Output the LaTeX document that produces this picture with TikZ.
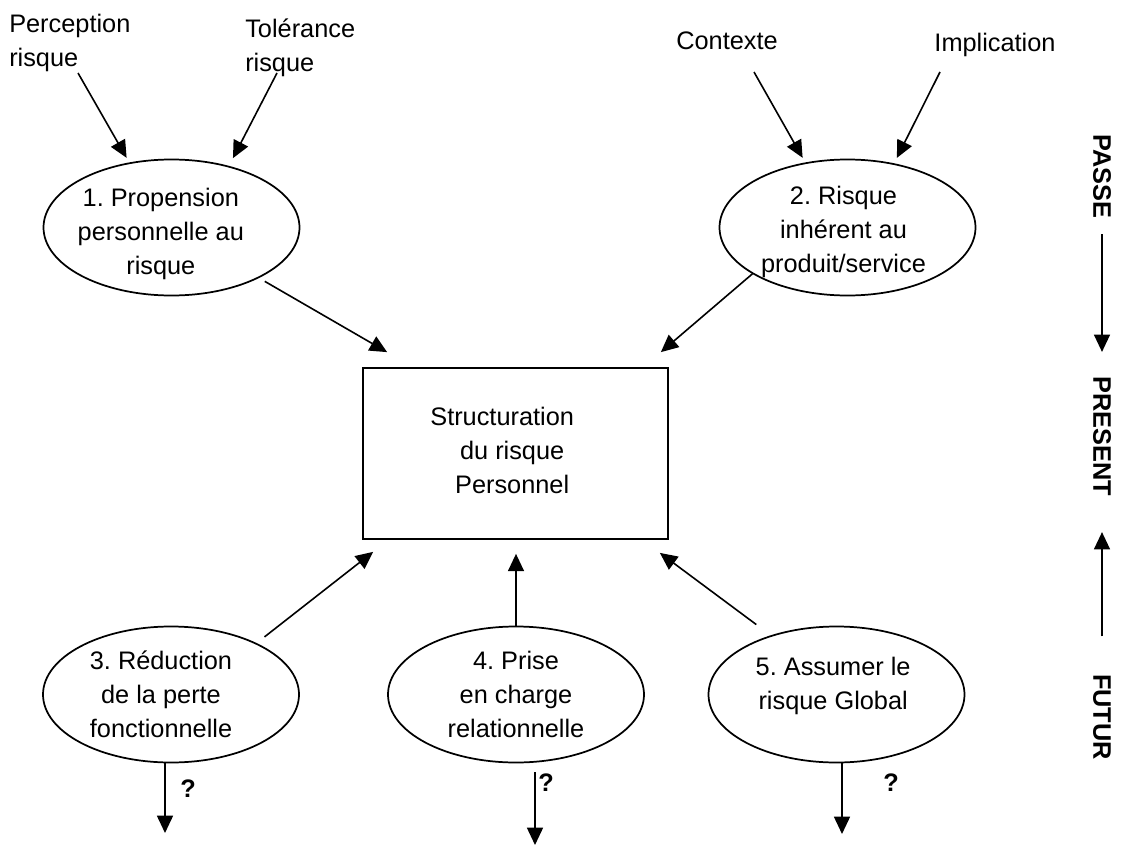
\documentclass[tikz,border=0pt]{standalone}
\usepackage{fontspec}
\setmainfont{Liberation Sans}
\frenchspacing
\usetikzlibrary{calc,shapes.geometric,arrows.meta}

\begin{document}
\begin{tikzpicture}[x=0.75pt,y=-0.75pt,>={Triangle[length=13pt,width=12pt]},
  every node/.style={font=\fontsize{19}{25.5}\selectfont, inner sep=0pt},
  every label/.style={align=center},
  link/.style={->, line width=1.2pt},
  bubble/.style={ellipse, draw, line width=1.3pt, minimum width=192pt, minimum height=102pt},
  side/.style={rotate=-90, font=\fontsize{19}{25.5}\selectfont\bfseries}]

\useasboundingbox (0,0) rectangle (1125,846);

% Draw inputs
\node[anchor=north west, align=left] (perc) at (9,14) {Perception\\risque};
\node[anchor=north west, align=left] (tol) at (245,19) {Tolérance\\risque};
\node[anchor=north] (ctx) at (727,32) {Contexte};
\node[anchor=north] (impl) at (995,33) {Implication};

% Draw bubbles
\node[bubble, label={[xshift=-8pt, yshift=-4.5pt]center:1. Propension\\personnelle au\\risque}] (prop) at (171.5,227.5) {};
\node[bubble, label={[xshift=-3pt, yshift=-3pt]center:2. Risque\\inhérent au\\produit/service}] (inh) at (847.5,227.5) {};
\node[bubble, label={[xshift=-7.5pt]center:3. Réduction\\de la perte\\fonctionnelle}] (red) at (171,694.5) {};
\node[bubble, label={center:4. Prise\\en charge\\relationnelle}] (rel) at (516,694.5) {};
\node[bubble, label={[xshift=-2.5pt, yshift=6.5pt]center:5. Assumer le\\risque Global}] (glob) at (836.5,694.5) {};

% Draw centre box
\node[draw, line width=1.3pt, minimum width=228.75pt, minimum height=128.25pt,
  label={[xshift=-10pt, yshift=2pt]center:Structuration\\\hspace*{15pt}du risque\\\hspace*{15pt}Personnel}] (struct) at (515.5,453.5) {};

% Draw time axis
\node[side] (passe) at (1102,176) {PASSE};
\node[side] (present) at (1102,436) {PRESENT};
\node[side] (futur) at (1102,717) {FUTUR};

% Free ends of the arrows
\coordinate (percfoot) at (78,73);
\coordinate (tolfoot) at (277,73);
\coordinate (ctxfoot) at (754,72);
\coordinate (implfoot) at (940,72);
\coordinate (tipA) at ($(struct.north west)+(25,-15)$);
\coordinate (tipB) at ($(struct.north east)+(-8,-15)$);
\coordinate (tipC) at ($(struct.south west)+(11,12)$);
\coordinate (tipD) at ($(struct.south)+(0,14)$);
\coordinate (tipE) at ($(struct.south east)+(-9,13)$);
\coordinate (q3) at (165,833);
\coordinate (q4) at (535,845);
\coordinate (q5) at (842,834);

% Draw inputs to bubbles
\draw[link, shorten >=4pt] (percfoot) -- (prop.123);
\draw[link, shorten >=6.5pt] (tolfoot) -- (prop.47);
\draw[link, shorten >=4pt] (ctxfoot) -- (inh.123);
\draw[link, shorten >=4.5pt] (implfoot) -- (inh.54);

% Draw bubbles to centre box
\draw[link, shorten <=5pt] (prop.-30) -- (tipA);
\draw[link] (inh.206) -- (tipB);
\draw[link, shorten <=7.5pt] (red.31) -- (tipC);
\draw[link] (rel.north) -- (rel.north |- tipD);
\draw[link, shorten <=13.5pt] (glob.138) -- (tipE);

% Draw open outcomes
\draw[link] (red.south -| q3) -- (q3);
\draw[link] ($(rel.south -| q4)+(0,9)$) -- (q4);
\draw[link] (glob.south -| q5) -- (q5);
\node (qm3) at (188,789) {\bfseries ?};
\node (qm4) at (546,783) {\bfseries ?};
\node (qm5) at (891,783) {\bfseries ?};

% Draw time arrows
\draw[link, shorten <=12pt, shorten >=18pt] (passe.east) -- (present.west);
\draw[link, shorten <=28pt, shorten >=27pt] (futur.west) -- (present.east);

\end{tikzpicture}
\end{document}
